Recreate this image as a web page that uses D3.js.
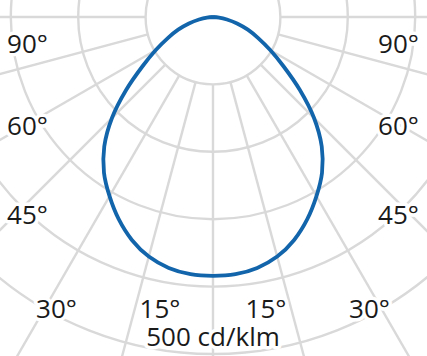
<!DOCTYPE html>
<html><head><meta charset="utf-8">
<script src="https://cdn.jsdelivr.net/npm/d3@7"></script>
<style>html,body{margin:0;padding:0;background:#fff;} svg{display:block;}</style>
</head><body><svg id="chart" width="427" height="356"></svg>
<script>
// ---- data ----
const gammaAngles = [0,5,10,15,20,25,30,35,40,45,50,55,60,65,70,75,80,85,90];
const intensity   = [384,383,378,368,352,331,307,282,251,212,168,128,98,74,55,37,21,9,0]; // cd/klm
const ringValues  = [100,200,300,400,500];
const spokeAngles = [-90,-75,-60,-45,-30,-15,0,15,30,45,60,75,90];
const labelAngles = [90,60,45,30,15];
const scaleLabel  = "500 cd/klm";

// ---- layout ----
const W = 427, H = 356;
const cx = 213, cy = 17;
const maxR = 337;
// label anchor offsets from centre (left side; mirrored on right)
const labelOffsets = {90:[-185.5,36],60:[-185.5,118],45:[-185.5,207],30:[-156.5,301],15:[-53,301]};

const svg = d3.select("#chart");
const g = svg.append("g").attr("transform", `translate(${cx},${cy})`);
const r = d3.scaleLinear().domain([0, 500]).range([0, maxR]);
const toRad = d => (180 - d) * Math.PI / 180; // 0° points down

const gridColor = "#d9d9d9";
// rings
g.selectAll("circle.ring").data(ringValues).join("circle")
  .attr("class","ring").attr("r", d => r(d))
  .attr("fill","none").attr("stroke",gridColor).attr("stroke-width",2.4);
// spokes
g.selectAll("line.spoke").data(spokeAngles).join("line")
  .attr("class","spoke")
  .attr("x1", d => d3.pointRadial(toRad(d), r(ringValues[0]))[0])
  .attr("y1", d => d3.pointRadial(toRad(d), r(ringValues[0]))[1])
  .attr("x2", d => d3.pointRadial(toRad(d), r(900))[0])
  .attr("y2", d => d3.pointRadial(toRad(d), r(900))[1])
  .attr("stroke",gridColor).attr("stroke-width",2.4);

// curve
const pts = [];
for (let i = gammaAngles.length - 1; i >= 1; i--) pts.push([-gammaAngles[i], intensity[i]]);
for (let i = 0; i < gammaAngles.length; i++) pts.push([gammaAngles[i], intensity[i]]);
const line = d3.lineRadial().angle(d => toRad(d[0])).radius(d => r(d[1])).curve(d3.curveCatmullRom.alpha(0.5));
g.append("path").datum(pts).attr("d", line)
  .attr("fill","none").attr("stroke","#1264ab").attr("stroke-width",3.8).attr("stroke-linejoin","round");

// labels
const labels = [];
labelAngles.forEach(a => {
  const [dx, dy] = labelOffsets[a];
  labels.push({t: a + "°", x: dx, y: dy});
  labels.push({t: a + "°", x: -dx, y: dy});
});
labels.push({t: scaleLabel, x: 0, y: 329});
g.selectAll("text.lbl").data(labels).join("text")
  .attr("class","lbl")
  .attr("x", d => d.x).attr("y", d => d.y)
  .attr("text-anchor","middle")
  .attr("font-family","'Open Sans', sans-serif").attr("font-size",26)
  .attr("fill","#1a1a1a")
  .attr("stroke","#fff").attr("stroke-width",7).attr("stroke-linejoin","round")
  .attr("paint-order","stroke")
  .text(d => d.t);
</script></body></html>
